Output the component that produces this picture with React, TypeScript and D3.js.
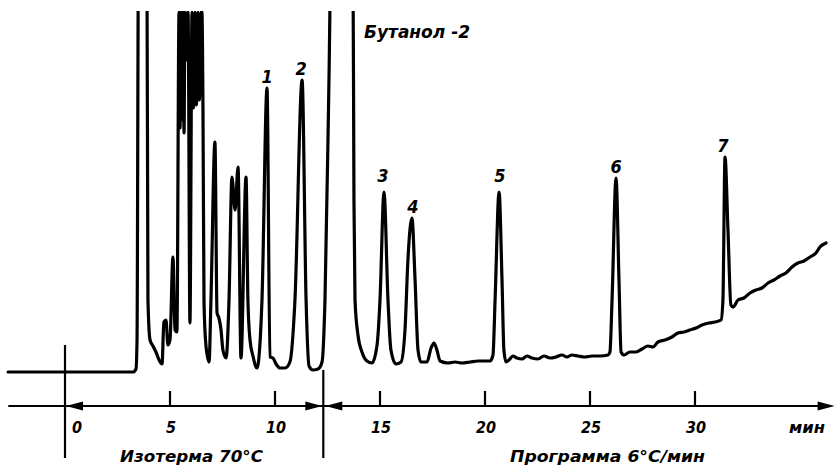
import React from 'react';
import * as d3 from 'd3';

// Retention time (min) and detector signal (arbitrary units)
const traceTime = [
  -2.71, 3.24, 3.38, 3.43, 3.5, 3.9, 3.95, 4.05, 4.19, 4.33, 4.48, 4.62, 4.71, 4.81, 4.9, 5.0, 5.14, 5.24, 5.33,
  5.43, 5.48, 5.52, 5.57, 5.62, 5.67, 5.71, 5.79, 5.86, 5.95, 6.05, 6.12, 6.19, 6.26, 6.33, 6.4, 6.48, 6.52, 6.57,
  6.62, 6.71, 6.86, 6.95, 7.14,
  7.24, 7.33, 7.43, 7.52, 7.67, 7.81, 7.95, 8.1, 8.24, 8.38, 8.62, 8.71, 8.81, 8.95, 9.14, 9.38, 9.62,
  9.76, 9.9, 10.05, 10.24, 10.48, 10.71, 10.95, 11.29, 11.48, 11.62, 11.81, 12.05, 12.24, 12.38, 12.57,
  12.67, 13.71, 13.76, 13.81, 13.95, 14.14, 14.38, 14.62, 14.86, 15.0, 15.19, 15.38, 15.52, 15.76, 16.0,
  16.19, 16.33, 16.52, 16.67, 16.81, 16.95, 17.24, 17.43, 17.57, 17.71, 17.86, 18.24, 18.57, 18.9, 19.29,
  19.67, 20.24, 20.38, 20.48, 20.67, 20.81, 20.9, 21.0, 21.14, 21.33, 21.52, 21.76, 22.0, 22.24, 22.52,
  22.81, 23.1, 23.38, 23.67, 23.9, 24.14, 24.43, 24.76, 25.1, 25.48, 25.86, 25.95, 26.05, 26.24, 26.38,
  26.48, 26.62, 26.9, 27.19, 27.48, 27.76, 28.0, 28.24, 28.57, 28.9, 29.19, 29.48, 29.76, 30.05, 30.33,
  30.67, 30.95, 31.24, 31.33, 31.43, 31.57, 31.71, 31.81, 32.05, 32.33, 32.62, 32.9, 33.19, 33.48, 33.76,
  34.05, 34.33, 34.62, 34.9, 35.19, 35.48, 35.76, 35.95, 36.24,
];
const traceSignal = [
  0, 0, 3, 32, 420, 420, 72, 32, 26, 20, 12, 8, 50, 52, 27, 32, 115, 42, 40,
  360, 244, 360, 252, 360, 239, 360, 312, 360, 49, 360, 264, 360, 267, 360, 272, 360, 360, 264,
  69, 27, 10, 72, 230,
  59, 54, 42, 22, 14, 72, 195, 162, 205, 14, 195, 72, 32, 16, 4, 72, 284,
  15, 14, 8, 4, 4, 10, 72, 292, 72, 6, 2, 3, 10, 72, 292,
  420, 420, 172, 72, 37, 20, 11, 9, 27, 72, 180, 72, 22, 8, 10,
  42, 112, 154, 92, 22, 10, 10, 24, 29, 22, 11, 9, 10, 9, 10,
  11, 11, 17, 72, 180, 92, 22, 10, 12, 16, 14, 13, 16, 14, 13,
  16, 14, 15, 17, 15, 17, 16, 15, 16, 16, 17, 20, 72, 194, 92,
  20, 17, 20, 20, 23, 26, 25, 30, 32, 35, 39, 40, 42, 44, 47,
  49, 50, 52, 72, 215, 142, 67, 65, 72, 74, 79, 82, 84, 89, 92,
  96, 99, 105, 109, 111, 115, 119, 125, 129,
];

const peakLabels = ['1', '2', '3', '4', '5', '6', '7'];
const peakLabelTime = [9.62, 11.24, 15.14, 16.57, 20.71, 26.24, 31.33];
const peakLabelSignal = [289, 297, 190, 159, 190, 199, 220];

const tickValues = [5, 10, 15, 20, 25, 30];
const tickLabels = ['5', '10', '15', '20', '25', '30'];
const zeroLabel = '0';
const axisStart = -2.7;
const axisEnd = 36.65;
const programStart = 12.3;
const unitLabel = 'мин';
const isothermLabel = 'Изотерма 70°C';
const programLabel = 'Программа 6°C/мин';
const solventLabel = 'Бутанол -2';
const solventLabelTime = 14.24;
const solventLabelSignal = 334;

const W = 836;
const H = 468;
const FONT = "'DejaVu Sans Condensed', 'DejaVu Sans', sans-serif";

export default function App() {
  const x = d3.scaleLinear().domain([0, 30]).range([65, 695]);
  const y = d3.scaleLinear().domain([0, 362]).range([372, 10]);
  const axisY = 406;

  const pts: [number, number][] = traceTime.map((t, i) => [t, traceSignal[i]]);
  const line = d3
    .line<[number, number]>()
    .x((d) => x(d[0]))
    .y((d) => y(d[1]))
    .curve(d3.curveMonotoneX);

  const arrow = (tipX: number, dir: 1 | -1) =>
    `M${tipX},${axisY} L${tipX - dir * 17},${axisY - 4.5} L${tipX - dir * 17},${axisY + 4.5} Z`;

  const textStyle: React.CSSProperties = {
    fontFamily: FONT,
    fontStyle: 'italic',
    fontWeight: 'bold',
    fontStretch: 'condensed',
  };

  return (
    <svg
      width={W}
      height={H}
      viewBox={`0 0 ${W} ${H}`}
      style={{ position: 'absolute', left: 0, top: 0, background: '#fff' }}
    >
      <defs>
        <clipPath id="plotClip">
          <rect x={0} y={11} width={W} height={H} />
        </clipPath>
      </defs>
      <rect x={0} y={0} width={W} height={H} fill="#fff" />

      <path
        d={line(pts) || ''}
        fill="none"
        stroke="#000"
        strokeWidth={3.2}
        strokeLinejoin="round"
        strokeLinecap="round"
        clipPath="url(#plotClip)"
      />

      {/* axis line */}
      <line x1={x(axisStart)} x2={x(axisEnd) - 5} y1={axisY} y2={axisY} stroke="#000" strokeWidth={2.2} />
      <path d={arrow(x(axisEnd), 1)} fill="#000" />
      <path d={arrow(x(0) + 1, -1)} fill="#000" />
      <path d={arrow(x(programStart) - 1, 1)} fill="#000" />
      <path d={arrow(x(programStart) + 2, -1)} fill="#000" />

      {/* vertical marker lines */}
      <line x1={x(0)} x2={x(0)} y1={345} y2={458} stroke="#000" strokeWidth={2.2} />
      <line x1={x(programStart)} x2={x(programStart)} y1={370} y2={458} stroke="#000" strokeWidth={2.2} />

      {tickValues.map((t, i) => (
        <g key={t}>
          <line x1={x(t)} x2={x(t)} y1={axisY - 15} y2={axisY} stroke="#000" strokeWidth={2.2} />
          <text x={x(t) + 1} y={433} textAnchor="middle" fontSize={16} style={textStyle}>
            {tickLabels[i]}
          </text>
        </g>
      ))}
      <text x={x(0) + 12} y={433} textAnchor="middle" fontSize={16} style={textStyle}>
        {zeroLabel}
      </text>
      <text x={807} y={433} textAnchor="middle" fontSize={16} style={textStyle} textLength={36} lengthAdjust="spacingAndGlyphs">
        {unitLabel}
      </text>
      <text x={120} y={462} fontSize={16} style={textStyle} textLength={143} lengthAdjust="spacingAndGlyphs">
        {isothermLabel}
      </text>
      <text x={510} y={462} fontSize={16} style={textStyle} textLength={195} lengthAdjust="spacingAndGlyphs">
        {programLabel}
      </text>
      <text
        x={x(solventLabelTime)}
        y={y(solventLabelSignal)}
        fontSize={17}
        style={textStyle}
        textLength={106}
        lengthAdjust="spacingAndGlyphs"
      >
        {solventLabel}
      </text>

      {peakLabels.map((lab, i) => (
        <text
          key={lab}
          x={x(peakLabelTime[i])}
          y={y(peakLabelSignal[i])}
          textAnchor="middle"
          fontSize={18}
          style={textStyle}
        >
          {lab}
        </text>
      ))}
    </svg>
  );
}
